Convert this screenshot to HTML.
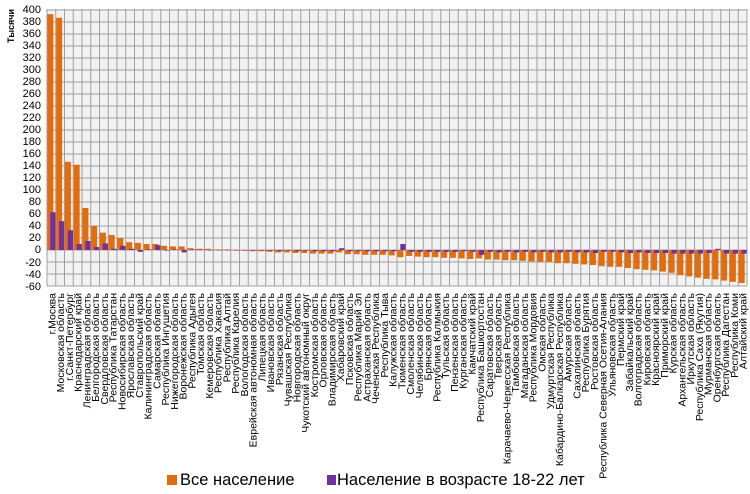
<!DOCTYPE html>
<html><head><meta charset="utf-8"><style>
html,body{margin:0;padding:0;background:#fff;}
svg{display:block;font-family:"Liberation Sans",sans-serif;}
</style></head><body>
<svg id="s" width="750" height="494" xmlns="http://www.w3.org/2000/svg">
<rect x="47" y="9" width="700" height="277" fill="#f2f2f2"/>
<g id="grid" stroke="#a0a0a0" stroke-width="1"></g>
<g id="bars"></g>
<text x="14" y="26" transform="rotate(-90 14 26)" font-size="9" font-weight="bold" text-anchor="middle">Тысячи</text>
<g font-size="11" text-anchor="end" fill="#000">
<text x="41" y="13">400</text><text x="41" y="25">380</text><text x="41" y="37">360</text><text x="41" y="49">340</text><text x="41" y="61">320</text><text x="41" y="73">300</text><text x="41" y="85">280</text><text x="41" y="97">260</text><text x="41" y="109">240</text><text x="41" y="121">220</text><text x="41" y="133">200</text><text x="41" y="145">180</text><text x="41" y="157">160</text><text x="41" y="169">140</text><text x="41" y="181">120</text><text x="41" y="193">100</text><text x="41" y="205">80</text><text x="41" y="217">60</text><text x="41" y="229">40</text><text x="41" y="241">20</text><text x="41" y="253">0</text><text x="41" y="266">-20</text><text x="41" y="278">-40</text><text x="41" y="290">-60</text>
</g>
<g id="labels" font-size="10.5" text-anchor="end" fill="#000">
<text>г.Москва</text><text>Московская область</text><text>г.Санкт-Петербург</text><text>Краснодарский край</text><text>Ленинградская область</text><text>Белгородская область</text><text>Свердловская область</text><text>Республика Татарстан</text><text>Новосибирская область</text><text>Ярославская область</text><text>Ставропольский край</text><text>Калининградская область</text><text>Самарская область</text><text>Республика Ингушетия</text><text>Нижегородская область</text><text>Воронежская область</text><text>Республика Адыгея</text><text>Томская область</text><text>Кемеровская область</text><text>Республика Хакасия</text><text>Республика Алтай</text><text>Республика Карелия</text><text>Вологодская область</text><text>Еврейская автономная область</text><text>Липецкая область</text><text>Ивановская область</text><text>Рязанская область</text><text>Чувашская Республика</text><text>Новгородская область</text><text>Чукотский автономный округ</text><text>Костромская область</text><text>Орловская область</text><text>Владимирская область</text><text>Хабаровский край</text><text>Псковская область</text><text>Республика Марий Эл</text><text>Астраханская область</text><text>Чеченская Республика</text><text>Республика Тыва</text><text>Калужская область</text><text>Тюменская область</text><text>Смоленская область</text><text>Челябинская область</text><text>Брянская область</text><text>Республика Калмыкия</text><text>Тульская область</text><text>Пензенская область</text><text>Курганская область</text><text>Камчатский край</text><text>Республика Башкортостан</text><text>Саратовская область</text><text>Тверская область</text><text>Карачаево-Черкесская Республика</text><text>Тамбовская область</text><text>Магаданская область</text><text>Республика Мордовия</text><text>Омская область</text><text>Удмуртская Республика</text><text>Кабардино-Балкарская Республика</text><text>Амурская область</text><text>Сахалинская область</text><text>Республика Бурятия</text><text>Ростовская область</text><text>Республика Северная Осетия-Алания</text><text>Ульяновская область</text><text>Пермский край</text><text>Забайкальский край</text><text>Волгоградская область</text><text>Кировская область</text><text>Красноярский край</text><text>Приморский край</text><text>Курская область</text><text>Архангельская область</text><text>Иркутская область</text><text>Республика Саха (Якутия)</text><text>Мурманская область</text><text>Оренбургская область</text><text>Республика Дагестан</text><text>Республика Коми</text><text>Алтайский край</text>
</g>
<rect x="167" y="475" width="10" height="10" fill="#e46c0a"/>
<text x="180" y="485" font-size="16.5">Все население</text>
<rect x="327" y="475" width="9" height="10" fill="#7030a0"/>
<text x="337" y="485" font-size="16.5">Население в возрасте 18-22 лет</text>
</svg>
<script>
var N=80,x0=47,w=8.75,y0=250,k=0.6;
var o=[393,387,147,142,70,40,29,25,20,13,12,10,10,7,6,6,3,2,2,1,1,0,-1,-2,-2,-3,-4,-4,-5,-5,-6,-6,-6,-4,-7,-7,-8,-8,-8,-9,-12,-10,-11,-12,-12,-13,-13,-14,-15,-14,-16,-16,-17,-17,-18,-19,-20,-20,-22,-22,-23,-24,-25,-27,-28,-28,-30,-32,-33,-34,-36,-38,-42,-44,-46,-48,-49,-51,-53,-55];
var p=[63,48,33,10,15,5,11,2,7,2,-3,1,8,-1,1,-4,1,1,0,0,0,-1,-1,-1,-1,-1,-2,-1,-2,-1,-2,-2,-2,3,-2,-2,-2,-2,-2,-2,10,-3,-3,-3,-3,-3,-3,-2,-3,-8,-3,-4,-3,-4,-3,-4,-3,-4,-4,-3,-4,-4,-5,-3,-3,-4,-5,-4,-5,-5,-5,-6,-6,-6,-6,-5,2,-6,-6,-6];
var NS="http://www.w3.org/2000/svg",g=document.getElementById('grid'),b=document.getElementById('bars');
function el(t,a,par){var e=document.createElementNS(NS,t);for(var q in a)e.setAttribute(q,a[q]);par.appendChild(e);return e;}
for(var v=-60;v<=400;v+=20){var y=y0-v*k;el('line',{x1:x0,x2:x0+N*w,y1:y,y2:y},g);}
for(var i=0;i<=N;i++){var x=x0+i*w;el('line',{x1:x,x2:x,y1:9,y2:286},g);}
function bar(x,ww,v,c){var y=y0-Math.max(v,0)*k,h=Math.abs(v)*k;el('rect',{x:x,y:y,width:ww,height:Math.max(h,0.5),fill:c},b);}
for(var i=0;i<N;i++){var x=x0+i*w;bar(x+0.4,6,o[i],'#e46c0a');bar(x+3.3,5.2,p[i],'#7030a0');}
var ls=document.getElementById('labels').children;
for(var i=0;i<ls.length;i++){var cx=x0+i*w+w/2+4;ls[i].setAttribute('transform','translate('+cx+',293) rotate(-90)');}
</script>
</body></html>
